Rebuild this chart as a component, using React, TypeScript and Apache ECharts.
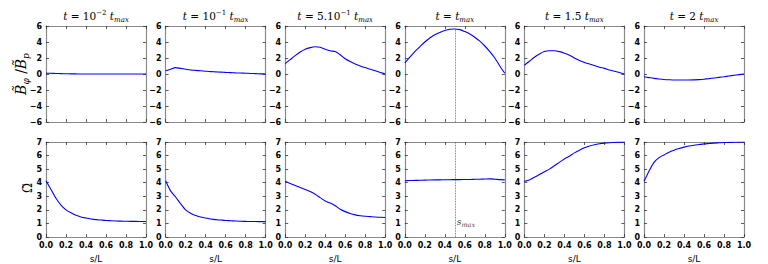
import React, { useEffect, useRef } from "react";
import * as echarts from "echarts";

const S = [0, 0.05, 0.1, 0.15, 0.2, 0.25, 0.3, 0.35, 0.4, 0.45, 0.5, 0.55, 0.6, 0.65, 0.7, 0.75, 0.8, 0.85, 0.9, 0.95, 1];

const TITLES = [
  "{i|t}{n| = 10}{sup|−2}{i| t}{sub|max}",
  "{i|t}{n| = 10}{sup|−1}{i| t}{sub|max}",
  "{i|t}{n| = 5.10}{sup|−1}{i| t}{sub|max}",
  "{i|t}{n| = }{i|t}{sub|max}",
  "{i|t}{n| = 1.5 }{i|t}{sub|max}",
  "{i|t}{n| = 2 }{i|t}{sub|max}",
];

const X_TICKS = [0, 0.2, 0.4, 0.6, 0.8, 1.0];

// Top row: B_phi / B_p
const B1 = [0.1, 0.09, 0.07, 0.05, 0.03, 0.02, 0.01, 0, 0, 0, 0, 0, 0, 0, 0, 0, 0, 0, 0, 0, 0];
const B2 = [0.4, 0.6, 0.8, 0.7, 0.6, 0.5, 0.45, 0.4, 0.35, 0.3, 0.27, 0.24, 0.2, 0.17, 0.14, 0.12, 0.1, 0.07, 0.05, 0.02, 0];
const B3 = [1.3, 1.8, 2.3, 2.75, 3.1, 3.3, 3.4, 3.35, 3.1, 2.9, 2.8, 2.4, 1.9, 1.55, 1.25, 1.0, 0.8, 0.6, 0.4, 0.2, 0];
const B4 = [1.4, 2.1, 2.8, 3.4, 4.0, 4.5, 4.9, 5.2, 5.45, 5.6, 5.62, 5.55, 5.3, 5.0, 4.6, 4.1, 3.5, 2.8, 2.0, 1.0, 0.1];
const B5 = [1.1, 1.6, 2.1, 2.5, 2.8, 2.9, 2.9, 2.8, 2.6, 2.35, 2.0, 1.7, 1.45, 1.25, 1.05, 0.85, 0.7, 0.5, 0.35, 0.18, 0];
const B6 = [-0.35, -0.45, -0.55, -0.62, -0.68, -0.72, -0.75, -0.75, -0.75, -0.75, -0.73, -0.7, -0.65, -0.58, -0.5, -0.42, -0.34, -0.25, -0.16, -0.08, 0];

// Bottom row: Omega
const O1 = [4.15, 3.5, 2.85, 2.35, 2.0, 1.78, 1.6, 1.48, 1.4, 1.33, 1.28, 1.25, 1.22, 1.2, 1.18, 1.17, 1.16, 1.15, 1.15, 1.14, 1.14];
const O2 = [4.15, 3.4, 2.95, 2.45, 2.0, 1.75, 1.58, 1.47, 1.4, 1.33, 1.28, 1.25, 1.22, 1.2, 1.18, 1.16, 1.15, 1.14, 1.14, 1.13, 1.13];
const O3 = [4.1, 3.95, 3.8, 3.65, 3.5, 3.35, 3.15, 2.9, 2.65, 2.5, 2.3, 2.05, 1.87, 1.73, 1.63, 1.57, 1.53, 1.5, 1.47, 1.45, 1.44];
const O4 = [4.15, 4.16, 4.17, 4.18, 4.19, 4.2, 4.21, 4.21, 4.22, 4.22, 4.23, 4.23, 4.24, 4.24, 4.25, 4.26, 4.27, 4.28, 4.26, 4.23, 4.21];
const O5 = [4.1, 4.2, 4.4, 4.6, 4.8, 5.0, 5.25, 5.5, 5.75, 5.95, 6.2, 6.4, 6.57, 6.7, 6.8, 6.87, 6.92, 6.95, 6.97, 6.99, 7.0];
const O6 = [4.1, 4.85, 5.5, 5.85, 6.05, 6.25, 6.4, 6.52, 6.62, 6.7, 6.76, 6.81, 6.86, 6.89, 6.92, 6.94, 6.96, 6.97, 6.98, 6.99, 7.0];

const TOP_SERIES = [B1, B2, B3, B4, B5, B6];
const BOTTOM_SERIES = [O1, O2, O3, O4, O5, O6];

const S_MAX = 0.5;
const B_PEAK = 5.62;

const FRAME = "#8a8a8a";
const TICK_FONT = { fontFamily: "DejaVu Sans", fontWeight: "bold" as const, fontSize: 8, color: "#000" };

export default function App() {
  const ref = useRef<HTMLDivElement>(null);
  useEffect(() => {
    if (!ref.current) return;
    const chart = echarts.init(ref.current, null, { renderer: "svg" });
    const grids: any[] = [];
    const xAxes: any[] = [];
    const yAxes: any[] = [];
    const series: any[] = [];
    const graphics: any[] = [];
    const minus = (v: number) => String(v).replace("-", "−");

    for (let p = 0; p < 12; p++) {
      const r = Math.floor(p / 6);
      const c = p % 6;
      const left = 46 + c * 119.6;
      const top = r === 0 ? 26 : 142;
      const height = r === 0 ? 96 : 95;
      grids.push({ left, top, width: 100, height, containLabel: false });
      const axLine = { show: true, onZero: false, lineStyle: { color: FRAME, width: 1.2 } };
      const tick = { show: true, inside: true, length: 3, lineStyle: { color: "#333", width: 0.8 } };
      xAxes.push({
        gridIndex: p, type: "value", min: 0, max: 1, interval: 0.2, position: "bottom",
        axisLine: axLine, axisTick: tick, splitLine: { show: false },
        axisLabel: { show: r === 1, ...TICK_FONT, margin: 4, formatter: (v: number) => v.toFixed(1), customValues: X_TICKS },
        name: r === 1 ? "s/L" : "", nameLocation: "middle", nameGap: 17,
        nameTextStyle: { fontFamily: "DejaVu Sans", fontSize: 9, color: "#000" },
      });
      xAxes.push({
        gridIndex: p, type: "value", min: 0, max: 1, interval: 0.2, position: "top",
        axisLine: axLine, axisTick: tick, splitLine: { show: false }, axisLabel: { show: false },
      });
      const yMin = r === 0 ? -6 : 0;
      const yMax = r === 0 ? 6 : 7;
      const yInt = r === 0 ? 2 : 1;
      yAxes.push({
        gridIndex: p, type: "value", min: yMin, max: yMax, interval: yInt, position: "left",
        axisLine: axLine, axisTick: tick, splitLine: { show: false },
        axisLabel: { show: true, ...TICK_FONT, margin: 4, formatter: minus },
      });
      yAxes.push({
        gridIndex: p, type: "value", min: yMin, max: yMax, interval: yInt, position: "right",
        axisLine: axLine, axisTick: tick, splitLine: { show: false }, axisLabel: { show: false },
      });
      const vals = r === 0 ? TOP_SERIES[c] : BOTTOM_SERIES[c];
      const s: any = {
        type: "line", xAxisIndex: 2 * p, yAxisIndex: 2 * p,
        data: S.map((x, i) => [x, vals[i]]),
        showSymbol: false, symbol: "none", smooth: 0.25,
        lineStyle: { color: "#0000ff", width: 1.1 },
      };
      if (c === 3) {
        s.markLine = {
          silent: true, symbol: ["none", "none"], label: { show: false },
          lineStyle: { type: "dotted", color: "#555", width: 0.8 },
          data: [[{ coord: [S_MAX, yMin] }, { coord: [S_MAX, r === 0 ? B_PEAK : yMax] }]],
        };
      }
      series.push(s);
      if (r === 1 && c === 3) {
        series.push({
          type: "scatter", xAxisIndex: 2 * p, yAxisIndex: 2 * p,
          data: [[S_MAX, 1.1]], symbolSize: 0, silent: true,
          itemStyle: { color: "#000" },
          label: {
            show: true, position: "right", distance: 2, color: "#000",
            formatter: "{i|s}{sub|max}",
            rich: {
              i: { fontFamily: "DejaVu Serif", fontStyle: "italic", fontSize: 9, color: "#000", lineHeight: 12 },
              sub: { fontFamily: "DejaVu Serif", fontStyle: "italic", fontSize: 6.5, color: "#000", verticalAlign: "bottom", lineHeight: 12 },
            },
          },
        });
      }
      if (r === 0) {
        graphics.push({
          type: "text", x: left + 50, y: 16,
          style: {
            text: TITLES[c], align: "center", textAlign: "center", verticalAlign: "middle", textVerticalAlign: "middle",
            rich: {
              i: { fontFamily: "DejaVu Serif", fontStyle: "italic", fontSize: 10.5, fill: "#000", lineHeight: 14 },
              n: { fontFamily: "DejaVu Serif", fontSize: 10.5, fill: "#000", lineHeight: 14 },
              sup: { fontFamily: "DejaVu Serif", fontSize: 7, fill: "#000", verticalAlign: "top", lineHeight: 14 },
              sub: { fontFamily: "DejaVu Serif", fontStyle: "italic", fontSize: 7, fill: "#000", verticalAlign: "bottom", lineHeight: 14 },
            },
          },
        });
      }
    }

    graphics.push({
      type: "text", x: 21, y: 74, rotation: Math.PI / 2,
      style: {
        text: "{b|B\u0303}{s|φ}{n| /}{b|B\u0303}{s|p}", align: "center", textAlign: "center", verticalAlign: "middle", textVerticalAlign: "middle",
        rich: {
          b: { fontFamily: "DejaVu Serif", fontStyle: "italic", fontSize: 14, fill: "#000", lineHeight: 18 },
          n: { fontFamily: "DejaVu Serif", fontSize: 14, fill: "#000", lineHeight: 18 },
          s: { fontFamily: "DejaVu Serif", fontStyle: "italic", fontSize: 9, fill: "#000", verticalAlign: "bottom", lineHeight: 18 },
        },
      },
    });
    graphics.push({
      type: "text", x: 28, y: 188, rotation: Math.PI / 2,
      style: {
        text: "Ω\u0303", align: "center", textAlign: "center", verticalAlign: "middle", textVerticalAlign: "middle",
        font: "12px 'DejaVu Serif'", fill: "#000",
      },
    });

    chart.setOption({
      animation: false,
      backgroundColor: "#fff",
      grid: grids,
      xAxis: xAxes,
      yAxis: yAxes,
      series,
      graphic: graphics,
    });
    return () => chart.dispose();
  }, []);
  return <div ref={ref} style={{ position: "fixed", left: 0, top: 0, width: 768, height: 264 }} />;
}
